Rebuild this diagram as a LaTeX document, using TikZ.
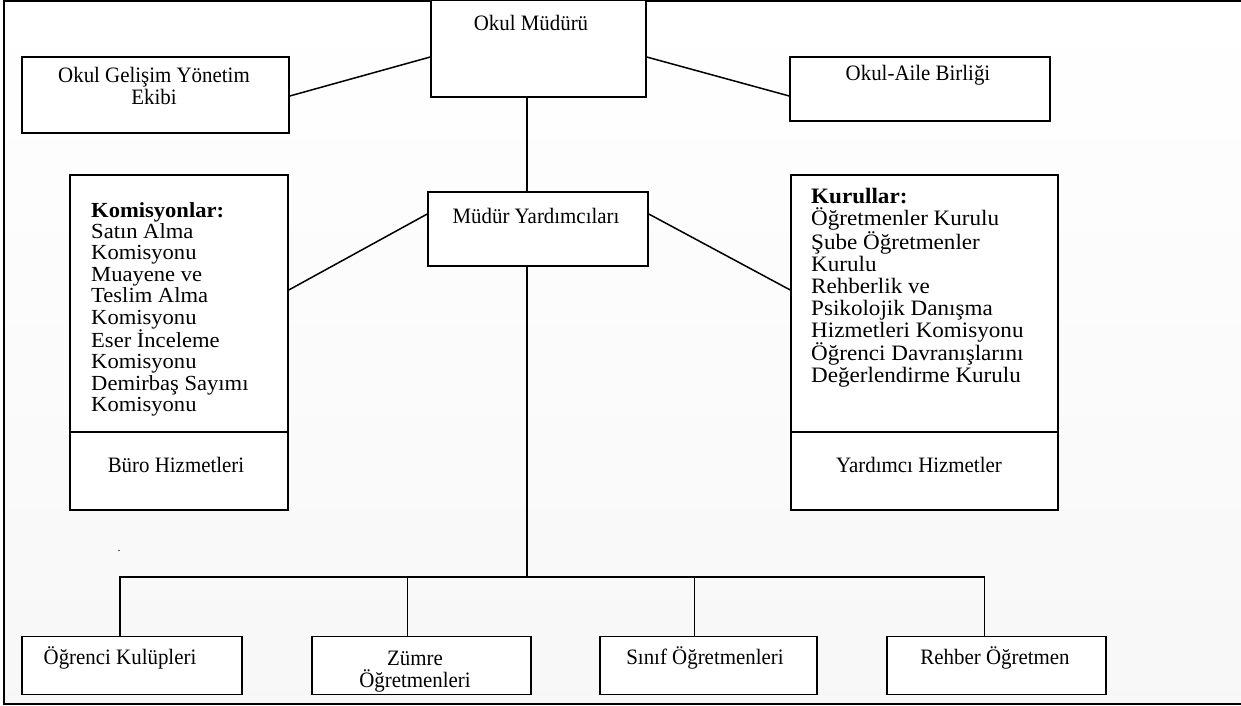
\documentclass[tikz,border=0pt]{standalone}
\usepackage{fontspec}
\setmainfont{Liberation Serif}
\newfontfamily\widefont[FakeStretch=1.05]{Liberation Serif}
\newfontfamily\narrowfont[FakeStretch=0.95]{Liberation Serif}
\begin{document}
\begin{tikzpicture}[x=1pt,y=-1pt,
  box/.style={draw,line width=1.5pt,fill=white,inner sep=0pt},
  lbl/.style={inner sep=0pt,align=center,font=\narrowfont\fontsize{22}{22}\selectfont},
  lst/.style={inner sep=0pt,align=left,anchor=north west},
  conn/.style={line width=1.5pt}]
\useasboundingbox (0,0) rectangle (1241,706);
\shade[top color=white,bottom color=gray!6] (4,1) rectangle (1241,704);
\draw[line width=2pt] (1241,1) -- (4,1) -- (4,704) -- (1241,704);

% boxes
\node[box,minimum width=215pt,minimum height=97pt] (mud) at (538.5,48.5) {};
\node[box,minimum width=267pt,minimum height=76pt] (gel) at (155.5,95) {};
\node[box,minimum width=260pt,minimum height=64pt] (aile) at (920,89) {};
\node[box,minimum width=220pt,minimum height=74pt] (yard) at (538,229) {};
\node[box,minimum width=218pt,minimum height=257pt] (kom) at (179,303.5) {};
\node[box,minimum width=218pt,minimum height=78pt] (buro) at (179,471) {};
\node[box,minimum width=267pt,minimum height=257pt] (kur) at (924.5,303.5) {};
\node[box,minimum width=267pt,minimum height=78pt] (yrd) at (924.5,471) {};
\node[box,minimum width=220pt,minimum height=58pt] (ogr) at (132,665.5) {};
\node[box,minimum width=219pt,minimum height=58pt] (zum) at (421.5,665.5) {};
\node[box,minimum width=217pt,minimum height=58pt] (sin) at (708.5,665.5) {};
\node[box,minimum width=219pt,minimum height=58pt] (reh) at (996.5,665.5) {};

% texts
\node[lbl] (mudT) at (531,23) {Okul Müdürü};
\node[lbl] (gelT) at (154,85.5) {Okul Gelişim Yönetim\\Ekibi};
\node[lbl] (aileT) at (918,75) {Okul-Aile Birliği};
\node[lbl] (yardT) at (536,216) {Müdür Yardımcıları};
\node[lst,font=\widefont\fontsize{21.5}{21.4}\selectfont] (komT) at (91,202)
  {\textbf{Komisyonlar:}\\Satın Alma\\Komisyonu\\Muayene ve\\Teslim Alma\\Komisyonu\\Eser İnceleme\\Komisyonu\\Demirbaş Sayımı\\Komisyonu};
\node[lst,font=\widefont\fontsize{22}{22}\selectfont] (kurT) at (811,188)
  {\textbf{Kurullar:}\\Öğretmenler Kurulu\\Şube Öğretmenler\\Kurulu\\Rehberlik ve\\Psikolojik Danışma\\Hizmetleri Komisyonu\\Öğrenci Davranışlarını\\Değerlendirme Kurulu};
\node[lbl] (buroT) at (176,465) {Büro Hizmetleri};
\node[lbl] (yrdT) at (919,465) {Yardımcı Hizmetler};
\node[lbl] (ogrT) at (120,658) {Öğrenci Kulüpleri};
\node[lbl] (zumT) at (415,672) {Zümre\\Öğretmenleri};
\node[lbl] (sinT) at (705,658) {Sınıf Öğretmenleri};
\node[lbl] (rehT) at (995,658) {Rehber Öğretmen};
\node[inner sep=0pt,font=\fontsize{12}{12}\selectfont] (dot) at (119,551) {.};

% connectors
\coordinate (trunk) at (527,577);
\draw[conn] ([yshift=-1pt]gel.east) -- ([yshift=-8.5pt]mud.west);
\draw[conn] ([yshift=-8.5pt]mud.east) -- ([yshift=-7pt]aile.west);
\draw[conn] (mud.south -| trunk) -- (yard.north -| trunk);
\draw[conn] (yard.south -| trunk) -- (trunk);
\draw[conn] ([yshift=15pt]yard.west) -- ([yshift=13.5pt]kom.east);
\draw[conn] ([yshift=15pt]yard.east) -- ([yshift=13.5pt]kur.west);
\draw[conn] ([xshift=-12pt]ogr.north) |- (trunk);
\draw[conn] ([xshift=-12pt]reh.north) |- (trunk);
\draw[conn] ([xshift=-14pt]zum.north) -- ([xshift=-14pt]zum.north |- trunk);
\draw[conn] ([xshift=-14pt]sin.north) -- ([xshift=-14pt]sin.north |- trunk);
\end{tikzpicture}
\end{document}
